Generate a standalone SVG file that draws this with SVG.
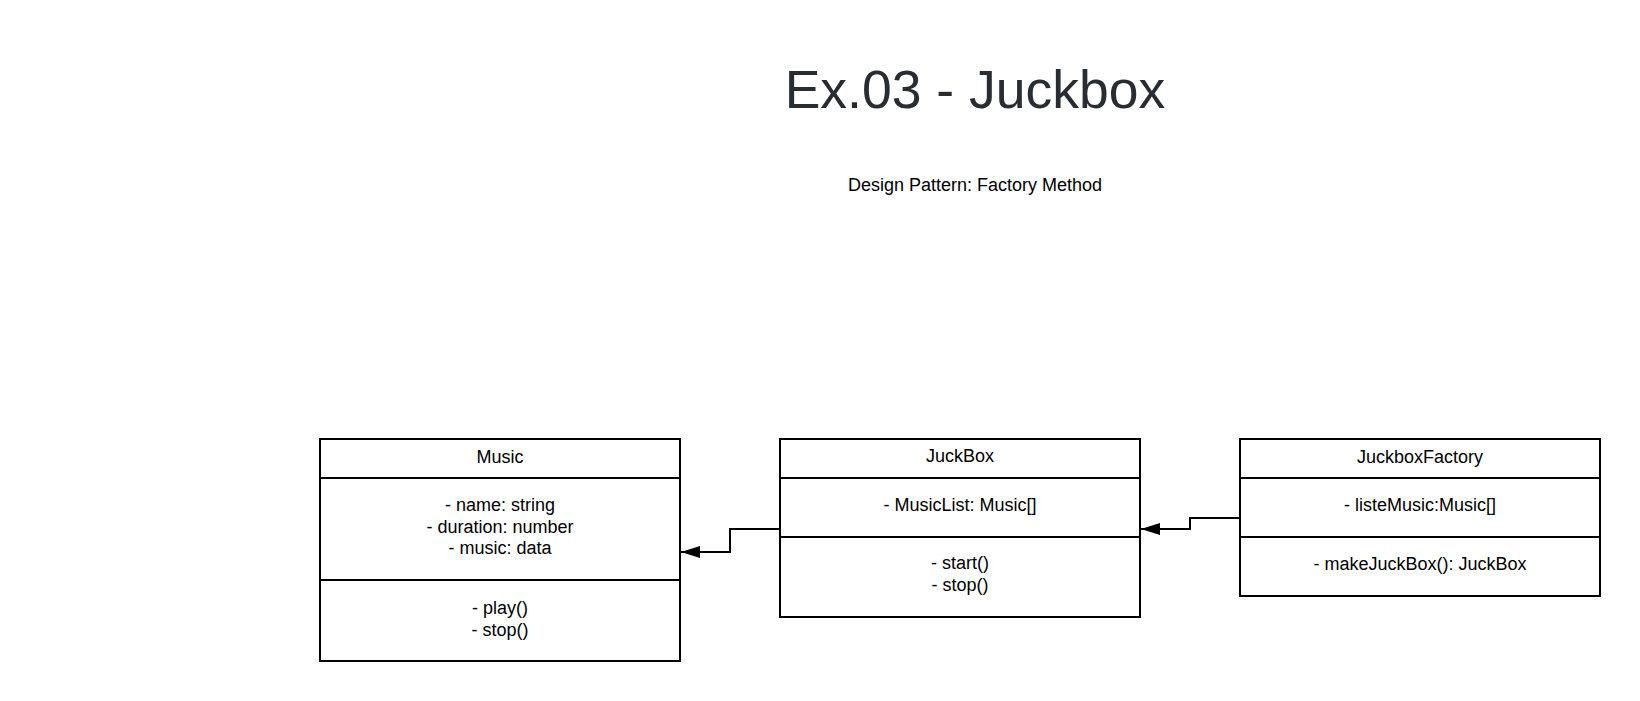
<svg xmlns="http://www.w3.org/2000/svg" width="1640" height="701" viewBox="0 0 1640 701">
<style>
.box{fill:#ffffff;stroke:#000000;stroke-width:2}
.sep{stroke:#000000;stroke-width:2}
.t{font-family:"Liberation Sans",Arial,sans-serif;font-size:18px;fill:#000000;text-anchor:middle}
.title{font-family:"Liberation Sans",Arial,sans-serif;font-size:53.5px;fill:#282c33;text-anchor:middle}
.conn{fill:none;stroke:#000000;stroke-width:2}
</style>
<defs>
<marker id="arr" markerWidth="19" markerHeight="12" refX="19" refY="6" orient="auto" markerUnits="userSpaceOnUse">
<path d="M0,0 L19,6 L0,12 Z" fill="#000000"/>
</marker>
</defs>
<rect width="1640" height="701" fill="#ffffff"/>
<g id="title">
<text class="title" x="975" y="108">Ex.03 - Juckbox</text>
<text class="t" x="975" y="191">Design Pattern: Factory Method</text>
</g>
<g id="music">
<rect class="box" x="320" y="439" width="360" height="222"/>
<line class="sep" x1="320" y1="478" x2="680" y2="478"/>
<line class="sep" x1="320" y1="580" x2="680" y2="580"/>
<text class="t" x="500" y="463">Music</text>
<text class="t" x="500" y="511">- name: string</text>
<text class="t" x="500" y="533">- duration: number</text>
<text class="t" x="500" y="554">- music: data</text>
<text class="t" x="500" y="614">- play()</text>
<text class="t" x="500" y="636">- stop()</text>
</g>
<g id="juckbox">
<rect class="box" x="780" y="439" width="360" height="178"/>
<line class="sep" x1="780" y1="478" x2="1140" y2="478"/>
<line class="sep" x1="780" y1="537" x2="1140" y2="537"/>
<text class="t" x="960" y="462">JuckBox</text>
<text class="t" x="960" y="511">- MusicList: Music[]</text>
<text class="t" x="960" y="569">- start()</text>
<text class="t" x="960" y="591">- stop()</text>
</g>
<g id="juckboxfactory">
<rect class="box" x="1240" y="439" width="360" height="157"/>
<line class="sep" x1="1240" y1="478" x2="1600" y2="478"/>
<line class="sep" x1="1240" y1="537" x2="1600" y2="537"/>
<text class="t" x="1420" y="463">JuckboxFactory</text>
<text class="t" x="1420" y="511">- listeMusic:Music[]</text>
<text class="t" x="1420" y="570">- makeJuckBox(): JuckBox</text>
</g>
<g id="connectors">
<polyline class="conn" points="780,529 730,529 730,552 681,552" marker-end="url(#arr)"/>
<polyline class="conn" points="1240,518 1190,518 1190,529 1141,529" marker-end="url(#arr)"/>
</g>
</svg>
